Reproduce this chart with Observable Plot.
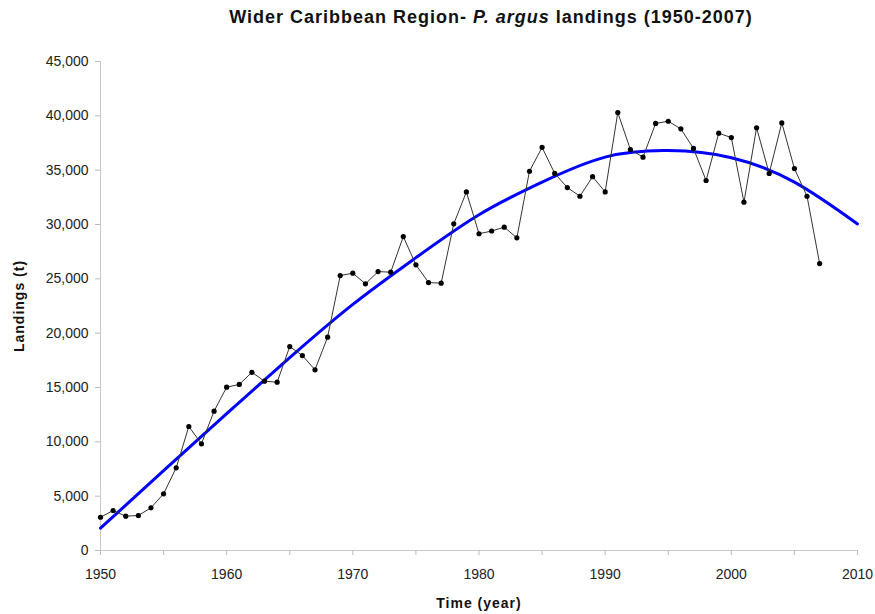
<!DOCTYPE html>
<html>
<head>
<meta charset="utf-8">
<script src="https://cdn.jsdelivr.net/npm/d3@7"></script>
<script src="https://cdn.jsdelivr.net/npm/@observablehq/plot@0.6"></script>
<style>
  html, body { margin: 0; padding: 0; background: #fff; }
  #wrap { width: 875px; }
  #title {
    height: 36px;
    box-sizing: border-box;
    padding-top: 6px;
    padding-left: 107px;
    text-align: center;
    font-family: "Liberation Sans", Arial, sans-serif;
    font-weight: bold;
    font-size: 18px;
    line-height: 22px;
    letter-spacing: 1px;
    color: #111;
  }
  #chart svg { display: block; }
</style>
</head>
<body>
<div id="wrap">
  <div id="title">Wider Caribbean Region- <i>P. argus</i> landings (1950-2007)</div>
  <div id="chart"></div>
</div>
<script>
// Annual spiny lobster landings (t), 1950-2007
const years = [
  1950, 1951, 1952, 1953, 1954, 1955, 1956, 1957, 1958, 1959,
  1960, 1961, 1962, 1963, 1964, 1965, 1966, 1967, 1968, 1969,
  1970, 1971, 1972, 1973, 1974, 1975, 1976, 1977, 1978, 1979,
  1980, 1981, 1982, 1983, 1984, 1985, 1986, 1987, 1988, 1989,
  1990, 1991, 1992, 1993, 1994, 1995, 1996, 1997, 1998, 1999,
  2000, 2001, 2002, 2003, 2004, 2005, 2006, 2007
];
const landings = [
  3060, 3680, 3160, 3220, 3930, 5220, 7610, 11410, 9820, 12820,
  15030, 15280, 16400, 15580, 15490, 18770, 17940, 16630, 19630, 25300,
  25520, 24540, 25670, 25610, 28890, 26290, 24660, 24600, 30060, 33000,
  29150, 29400, 29750, 28770, 34900, 37100, 34700, 33400, 32600, 34400,
  33000, 40300, 36900, 36200, 39300, 39500, 38800, 37000, 34050, 38400,
  38000, 32050, 38900, 34700, 39350, 35150, 32600, 26400
];

// Polynomial trend line, sampled every five years
const trendYears = [1950, 1955, 1960, 1965, 1970, 1975, 1980, 1985, 1990, 1995, 2000, 2005, 2010];
const trendValues = [2050, 7350, 12600, 17750, 22650, 26950, 30900, 33900, 36200, 36800, 36150, 33900, 30050];

// Axis ticks
const xTicks = [1950, 1955, 1960, 1965, 1970, 1975, 1980, 1985, 1990, 1995, 2000, 2005, 2010];
const yTicks = [0, 5000, 10000, 15000, 20000, 25000, 30000, 35000, 40000, 45000];

const series = years.map((year, i) => ({year, value: landings[i]}));
const trend = trendYears.map((year, i) => ({year, value: trendValues[i]}));

const fmt = d3.format(",");

const chart = Plot.plot({
  width: 875,
  height: 578,
  marginTop: 25,
  marginBottom: 64,
  marginLeft: 100,
  marginRight: 18,
  style: {
    fontFamily: "'Liberation Sans', Arial, sans-serif",
    fontSize: "14px",
    color: "#222",
    background: "#fff",
    overflow: "visible"
  },
  x: {domain: [1950, 2010]},
  y: {domain: [0, 45000]},
  marks: [
    Plot.ruleY([0], {stroke: "#c8c8c8", strokeWidth: 1}),
    Plot.ruleX([1950], {y1: 0, y2: 45000, stroke: "#c8c8c8", strokeWidth: 1}),
    Plot.axisX({
      ticks: xTicks,
      tickSize: 5,
      tickPadding: 14,
      stroke: "#bbb",
      tickFormat: d => (d % 10 === 0 ? String(d) : ""),
      letterSpacing: "1.2px",
      label: "Time (year)",
      labelAnchor: "center",
      labelArrow: "none",
      labelOffset: 57
    }),
    Plot.axisY({
      ticks: yTicks,
      tickSize: 5,
      tickPadding: 7,
      stroke: "#bbb",
      tickFormat: fmt,
      letterSpacing: "1.2px",
      label: "Landings (t)",
      labelAnchor: "center",
      labelArrow: "none",
      labelOffset: 86
    }),
    Plot.line(trend, {x: "year", y: "value", curve: "natural", stroke: "#0000ff", strokeWidth: 3}),
    Plot.line(series, {x: "year", y: "value", stroke: "#333", strokeWidth: 1}),
    Plot.dot(series, {x: "year", y: "value", r: 2.6, fill: "#000", stroke: "none"})
  ]
});

// Bold axis titles
d3.select(chart).selectAll("[aria-label='x-axis label'], [aria-label='y-axis label']")
  .attr("font-weight", "bold")
  .attr("letter-spacing", "1px")
  .attr("fill", "#111");

document.getElementById("chart").appendChild(chart);
</script>
</body>
</html>
